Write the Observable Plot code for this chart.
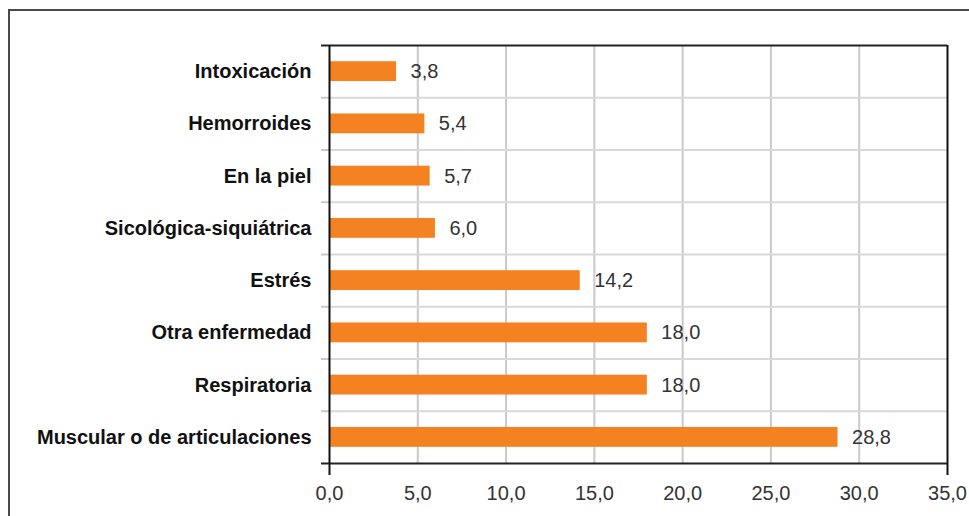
<!DOCTYPE html>
<html><head><meta charset="utf-8">
<script src="https://cdn.jsdelivr.net/npm/d3@7"></script>
<script src="https://cdn.jsdelivr.net/npm/@observablehq/plot@0.6"></script>
<style>
html,body{margin:0;padding:0;background:#fff;overflow:hidden;width:969px;height:516px}
#wrap{position:relative;width:969px;height:516px;overflow:hidden}
#frame{position:absolute;left:8px;top:9px;width:1200px;height:1200px;border:2px solid #4a4a4a;box-sizing:border-box;pointer-events:none}
#wrap svg{position:absolute;left:0;top:0}
</style></head><body><div id="wrap"><div id="frame"></div></div>
<script>
const categories = ["Intoxicación","Hemorroides","En la piel","Sicológica-siquiátrica","Estrés","Otra enfermedad","Respiratoria","Muscular o de articulaciones"];
const values = [3.8,5.4,5.7,6.0,14.2,18.0,18.0,28.8];
const xTicks = [0,5,10,15,20,25,30,35];

const data = categories.map((c,i)=>({name:c,value:values[i],i}));
const boundaries = d3.range(categories.length+1).map(k=>k-0.5);
const inner = boundaries.slice(1,-1);
const ends = [boundaries[0], boundaries[boundaries.length-1]];
const xEnds = [xTicks[0], xTicks[xTicks.length-1]];
const fmt = v => v.toFixed(1).replace(".", ",");
const half = 0.19;

const chart = Plot.plot({
  width:969, height:516, marginLeft:329, marginRight:22, marginTop:45, marginBottom:53,
  style:{fontFamily:'"Liberation Sans Narrow","Arial Narrow",sans-serif', fontSize:"20px", background:"transparent", color:"#333"},
  x:{domain:[xEnds[0], xEnds[1]], label:null},
  y:{domain:[boundaries[0], boundaries[boundaries.length-1]], reverse:true, label:null},
  marks:[
    Plot.ruleX(xTicks.slice(1,-1), {stroke:"#c9c9cd", strokeWidth:2}),
    Plot.ruleY(inner, {x1:xEnds[0], x2:xEnds[1], stroke:"#d9d9d9", strokeWidth:2}),
    Plot.axisY(inner, {tickSize:8, tickFormat:()=>"", label:null, stroke:"#c9c9c9", strokeWidth:2}),
    Plot.rectX(data, {x1:0, x2:"value", y1:d=>d.i-half, y2:d=>d.i+half, fill:"#F58220"}),
    Plot.ruleY(ends, {x1:xEnds[0], x2:xEnds[1], stroke:"#222", strokeWidth:2}),
    Plot.axisY(ends, {tickSize:8, tickFormat:()=>"", label:null, stroke:"#222", strokeWidth:2}),
    Plot.ruleX(xEnds, {stroke:"#111", strokeWidth:2}),
    Plot.axisX(xEnds, {tickSize:12, tickFormat:()=>"", label:null, stroke:"#111", strokeWidth:2}),
    Plot.axisX(xTicks, {tickSize:0, tickPadding:22, tickFormat:fmt, label:null, fill:"#333"}),
    Plot.axisY(d3.range(categories.length), {tickSize:0, tickPadding:18, tickFormat:i=>categories[i], label:null, fontWeight:"bold", fill:"#111"}),
    Plot.text(data, {x:"value", y:"i", text:d=>fmt(d.value), textAnchor:"start", dx:14, fill:"#333"})
  ]
});
document.getElementById("wrap").appendChild(chart);
</script>
</body></html>
